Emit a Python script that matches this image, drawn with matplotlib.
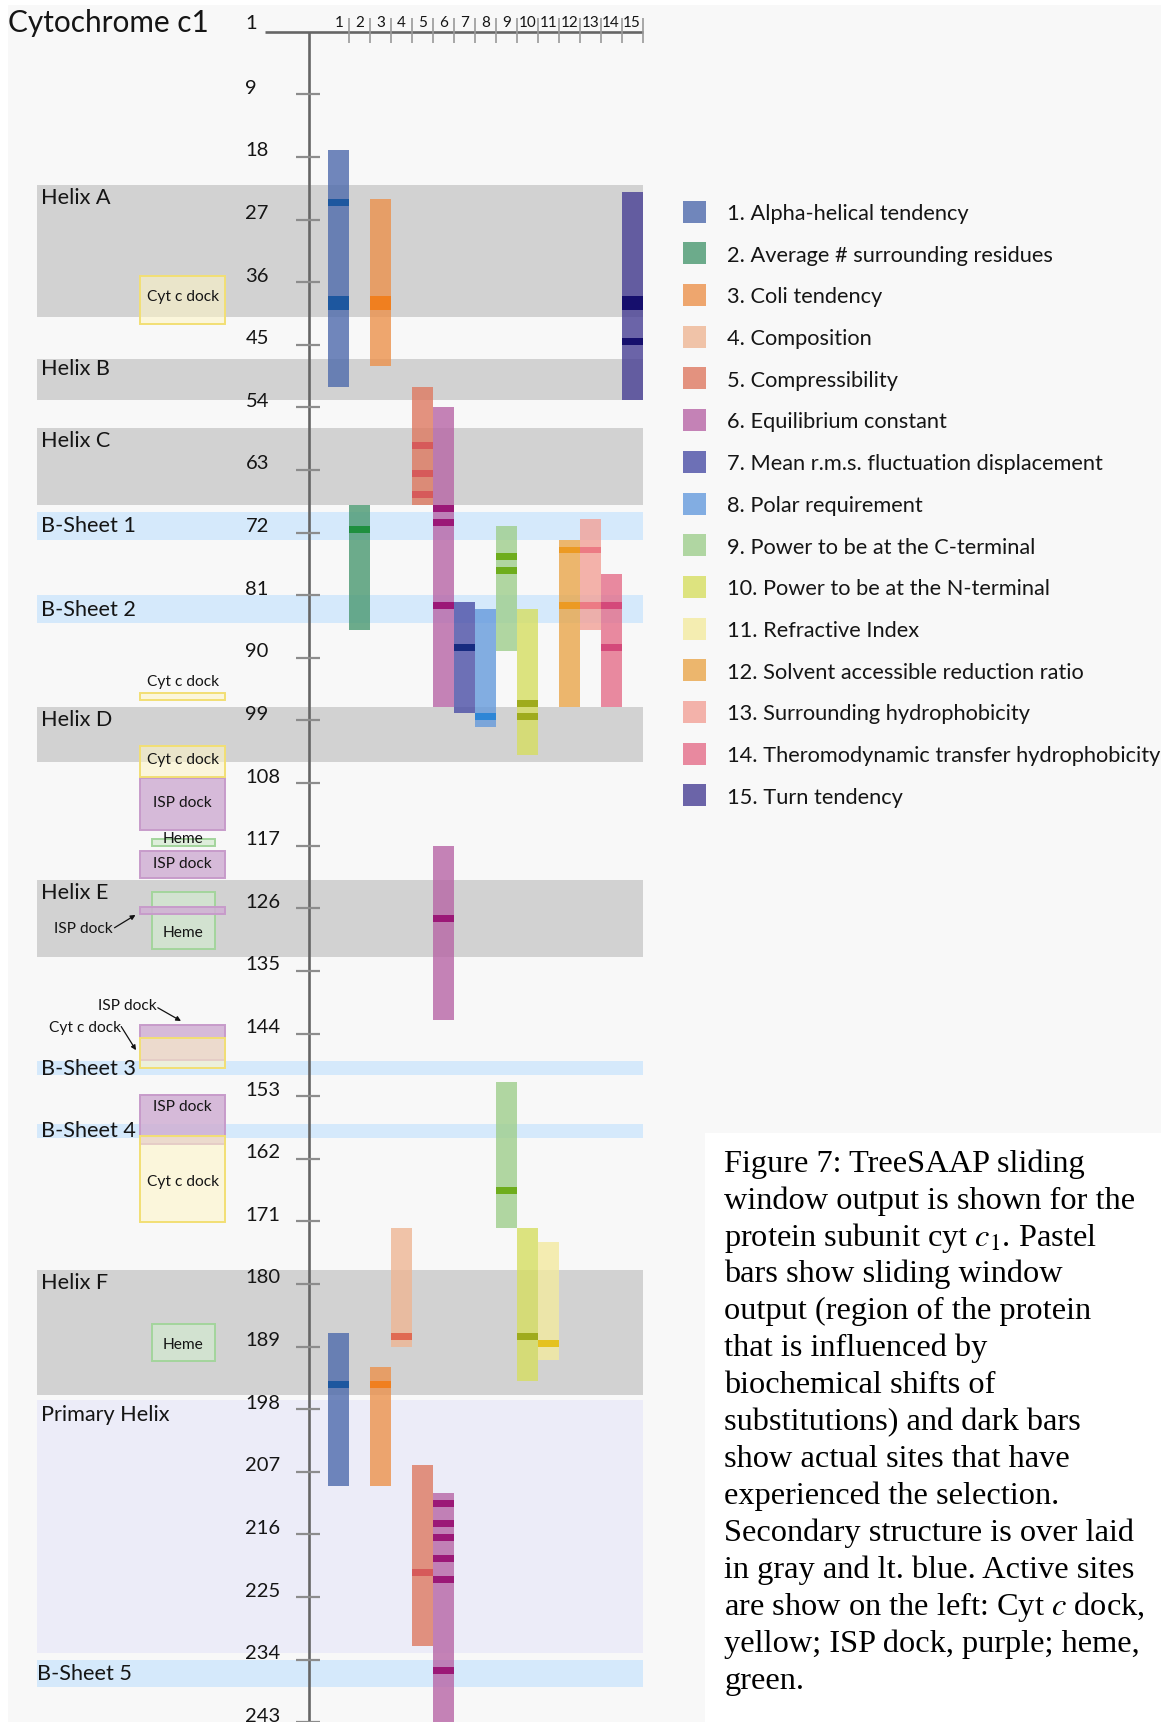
import matplotlib
matplotlib.use("Agg")
import matplotlib.pyplot as plt
from matplotlib.patches import Rectangle
import matplotlib.colors as mcolors
import numpy as np

plt.rcParams['font.family'] = ['Lato', 'DejaVu Sans']
plt.rcParams['mathtext.fontset'] = 'stix'

# ---------------- data ----------------
property_names = [
    "Alpha-helical tendency", "Average # surrounding residues", "Coli tendency",
    "Composition", "Compressibility", "Equilibrium constant",
    "Mean r.m.s. fluctuation displacement", "Polar requirement",
    "Power to be at the C-terminal", "Power to be at the N-terminal",
    "Refractive Index", "Solvent accessible reduction ratio",
    "Surrounding hydrophobicity", "Theromodynamic transfer hydrophobicity",
    "Turn tendency",
]

# sliding-window regions (property number, first residue, last residue)
window_prop = [1, 1, 2, 3, 3, 4, 5, 5, 6, 6, 6, 7, 8, 9, 9, 10, 10, 11, 12, 13, 14, 15]
window_start = [17, 187, 68, 24, 192, 172, 51, 206, 54, 117, 210, 82, 83, 71, 151, 83, 172, 174, 73, 70, 78, 23]
window_end = [51, 209, 86, 48, 209, 189, 68, 232, 97, 142, 245, 98, 100, 89, 172, 104, 194, 191, 97, 86, 97, 53]

# sites that experienced selection (property number, residue)
site_prop = [1, 1, 1, 1,
             2,
             3, 3, 3,
             4,
             5, 5, 5, 5,
             6, 6, 6, 6, 6, 6, 6, 6, 6, 6,
             7, 8,
             9, 9, 9,
             10, 10, 10,
             11,
             12, 12, 13, 13, 14, 14,
             15, 15, 15]
site_res = [24, 38, 39, 194,
            71,
            38, 39, 194,
            187,
            59, 63, 66, 221,
            68, 70, 82, 127, 211, 214, 216, 219, 222, 235,
            88, 98,
            75, 77, 166,
            96, 98, 187,
            188,
            74, 82, 74, 82, 82, 88,
            38, 39, 44]

# secondary structure
struct_names = ["Helix A", "Helix B", "Helix C", "B-Sheet 1", "B-Sheet 2", "Helix D",
                "Helix E", "B-Sheet 3", "B-Sheet 4", "Helix F", "Primary Helix", "B-Sheet 5"]
struct_type = ["helix", "helix", "helix", "sheet", "sheet", "helix",
               "helix", "sheet", "sheet", "helix", "primary", "sheet"]
struct_start = [22, 47, 57, 69, 81, 97, 122, 148, 157, 178, 196.7, 234]
struct_end = [41, 53, 68, 73, 85, 105, 133, 150, 159, 196, 233, 238]

# active sites
active_type = ["cyt", "cyt", "cyt", "isp", "heme", "isp", "heme", "isp", "isp", "cyt", "isp", "cyt", "heme"]
active_start = [35.1, 95.0, 102.7, 107.3, 116.0, 117.8, 123.7, 125.8, 142.8, 144.7, 152.8, 158.8, 185.8]
active_end = [42.0, 96.1, 107.2, 114.7, 117.0, 121.7, 131.9, 126.8, 147.8, 149.0, 159.9, 171.1, 191.1]
active_label_at = [38.1, 93.5, 104.7, 110.8, 116.0, 119.6, 129.5, None, None, None, 154.5, 165.3, 188.8]

residue_ticks = list(range(9, 244, 9))

caption_lines = [
    "Figure 7: TreeSAAP sliding",
    "window output is shown for the",
    r"protein subunit cyt $c_1$. Pastel",
    "bars show sliding window",
    "output (region of the protein",
    "that is influenced by",
    "biochemical shifts of",
    "substitutions) and dark bars",
    "show actual sites that have",
    "experienced the selection.",
    "Secondary structure is over laid",
    "in gray and lt. blue. Active sites",
    r"are show on the left: Cyt $c$ dock,",
    "yellow; ISP dock, purple; heme,",
    "green.",
]

# ---------------- styles ----------------
pastel = ["#7086bb", "#6cab8b", "#eea66e", "#f0c3a8", "#e3927f", "#c482b6", "#6d70b6",
          "#82ade2", "#b0d6a2", "#dde37f", "#f4edb1", "#ecb66d", "#f3b2aa", "#e8899f", "#6b64a8"]
dark = ["#1d579f", "#1e8f3e", "#f07f1f", "#e06a52", "#d65a5a", "#9b1877", "#172b80",
        "#2e86d6", "#6ead1c", "#9fab1d", "#e5c21f", "#ec9a23", "#ec7b84", "#d4497a", "#160f6d"]
band_color = {"helix": "#d2d2d2", "sheet": "#d5e9fb", "primary": "#ececf8"}
box_face = {"cyt": "#fff6c4", "isp": "#d0b0d4", "heme": "#d3ead0"}
box_alpha = {"cyt": 0.55, "isp": 0.85, "heme": 0.7}
box_edge = {"cyt": "#f2df74", "isp": "#c79bca", "heme": "#a3d59c"}
box_z = {"heme": 3, "isp": 4, "cyt": 5}
box_text = {"cyt": "Cyt c dock", "isp": "ISP dock", "heme": "Heme"}
BG = "#f8f8f8"
TXT = "#151515"

W, H = 1167, 1722
Y0, PPR = 31.7, 6.957          # pixel row of residue 0, pixels per residue
COL_X0, COL_W = 328.3, 20.95    # first property column, column width
AXIS_X = 308.5
BAND_X0, BAND_X1 = 36.6, 642.7
BAR_ALPHA = 0.8
# baseline offset of the structure names below the band top (helices) or centre (sheets)
NAME_OFFSET = {"helix": 19.0, "primary": 21.0, "sheet": 6.5}
NAME_OFFSET_TWEAK = {"Helix B": -3.0}


def res_of_px(py):
    return (py - Y0) / PPR


def col_left(k):
    return COL_X0 + (k - 1) * COL_W


def fx(x):
    return x / W


def fy(y):
    return 1 - y / H


def bar_base(c):
    rgb = np.array(mcolors.to_rgb(c))
    bg = np.array(mcolors.to_rgb(BG))
    return tuple(np.clip((rgb - (1 - BAR_ALPHA) * bg) / BAR_ALPHA, 0, 1))


fig = plt.figure(figsize=(W / 100, H / 100), dpi=100)
fig.patch.set_facecolor("white")
fig.add_artist(Rectangle((fx(8), 0), fx(1161) - fx(8), fy(5), transform=fig.transFigure,
                         facecolor=BG, edgecolor="none", zorder=-10))
fig.add_artist(Rectangle((fx(705), 0), 1 - fx(705), fy(1133), transform=fig.transFigure,
                         facecolor="white", edgecolor="none", zorder=-9))

ax = fig.add_axes([0, 0, 1, 1])
ax.set_xlim(0, W)
ax.set_ylim(res_of_px(H), res_of_px(0))
ax.axis("off")
ax.patch.set_visible(False)

# secondary structure bands and names
for name, kind, s, e in zip(struct_names, struct_type, struct_start, struct_end):
    ax.add_patch(Rectangle((BAND_X0, s), BAND_X1 - BAND_X0, e - s,
                           facecolor=band_color[kind], edgecolor="none", zorder=1))
    if kind == "sheet":
        base = Y0 + PPR * (s + e) / 2 + NAME_OFFSET[kind]
    else:
        base = Y0 + PPR * s + NAME_OFFSET[kind]
    base += NAME_OFFSET_TWEAK.get(name, 0.0)
    tx = 36.6 if name == "B-Sheet 5" else 40.8
    ax.text(tx, res_of_px(base), name, fontsize=15.6, color=TXT, va="baseline",
            ha="left", zorder=8)

# active-site boxes
for kind, s, e, lab in zip(active_type, active_start, active_end, active_label_at):
    if kind == "heme":
        x0, x1 = 151.5, 215.1
    else:
        x0, x1 = 140.2, 225.2
    ax.add_patch(Rectangle((x0, s), x1 - x0, e - s, facecolor=box_face[kind],
                           alpha=box_alpha[kind], edgecolor="none", zorder=box_z[kind]))
    ax.add_patch(Rectangle((x0, s), x1 - x0, e - s, facecolor="none",
                           edgecolor=box_edge[kind], lw=1.4, zorder=box_z[kind]))
    if lab is not None:
        ax.text((x0 + x1) / 2, lab, box_text[kind], fontsize=11.2, color=TXT,
                ha="center", va="center", zorder=9)

# annotated active sites
arrow_labels = ["ISP dock", "ISP dock", "Cyt c dock"]
arrow_text_xy = [(83.1, 129.0), (127.7, 140.1), (84.8, 143.2)]
arrow_from = [(114.5, 128.8), (157.8, 140.3), (121.2, 143.0)]
arrow_to = [(135.5, 126.96), (181.0, 142.2), (136.0, 146.4)]
for t, txy, a0, a1 in zip(arrow_labels, arrow_text_xy, arrow_from, arrow_to):
    ax.text(txy[0], txy[1], t, fontsize=11.2, color=TXT, ha="center", va="center", zorder=9)
    ax.annotate("", xy=a1, xytext=a0,
                arrowprops=dict(arrowstyle="-|>", lw=0.9, color="#111111",
                                mutation_scale=7, shrinkA=0, shrinkB=0), zorder=9)

# sliding-window bars
ax.bar([col_left(p) for p in window_prop],
       np.array(window_end) - np.array(window_start),
       bottom=window_start, width=COL_W, align="edge",
       color=[bar_base(pastel[p - 1]) for p in window_prop],
       alpha=BAR_ALPHA, edgecolor="none", zorder=6)

# selected sites
ax.bar([col_left(p) for p in site_prop], [1] * len(site_res),
       bottom=site_res, width=COL_W, align="edge",
       color=[dark[p - 1] for p in site_prop], edgecolor="none", zorder=7)

# residue axis
top_r = res_of_px(32.3)
ax.vlines(AXIS_X, top_r, res_of_px(H), color="#666666", lw=1.9, zorder=10)
ax.hlines(top_r, 265, col_left(16), color="#666666", lw=1.9, zorder=10)
ax.hlines(residue_ticks, 295.9, 319.9, color="#8c8c8c", lw=1.6, zorder=10)
for t in residue_ticks:
    ax.text(245.4, t - 6 / PPR, str(t), fontsize=14.5, color=TXT, ha="left",
            va="center", zorder=10)
ax.text(245.4, res_of_px(24.0), "1", fontsize=14.5, color=TXT, ha="left", va="center",
        zorder=10)

# property columns header
ax.vlines([col_left(k + 1) for k in range(1, 16)], res_of_px(18.3), res_of_px(43.3),
          color="#9a9a9a", lw=1.2, zorder=10)
for k in range(1, 16):
    ax.text(col_left(k) + COL_W / 2, res_of_px(22.7), str(k), fontsize=11, color=TXT,
            ha="center", va="center", zorder=10)

fig.text(fx(8.4), fy(32.3), "Cytochrome c1", fontsize=21.4, color=TXT,
         ha="left", va="baseline")

# legend
for i, (name, c) in enumerate(zip(property_names, pastel)):
    cy = 211.6 + 41.7 * i
    fig.add_artist(Rectangle((fx(683.3), fy(cy + 11)), fx(705.7) - fx(683.3), 22 / H,
                             transform=fig.transFigure, facecolor=c, edgecolor="none"))
    fig.text(fx(726.7), fy(cy + 8.3), f"{i + 1}. {name}", fontsize=15.7, color=TXT,
             ha="left", va="baseline")

# caption
for i, line in enumerate(caption_lines):
    fig.text(fx(724.5), fy(1171.7 + 36.93 * i), line, fontsize=23.3, color="black",
             family=["Liberation Serif", "DejaVu Serif"], ha="left", va="baseline")

fig.savefig("out.png", dpi=100, facecolor="white")
